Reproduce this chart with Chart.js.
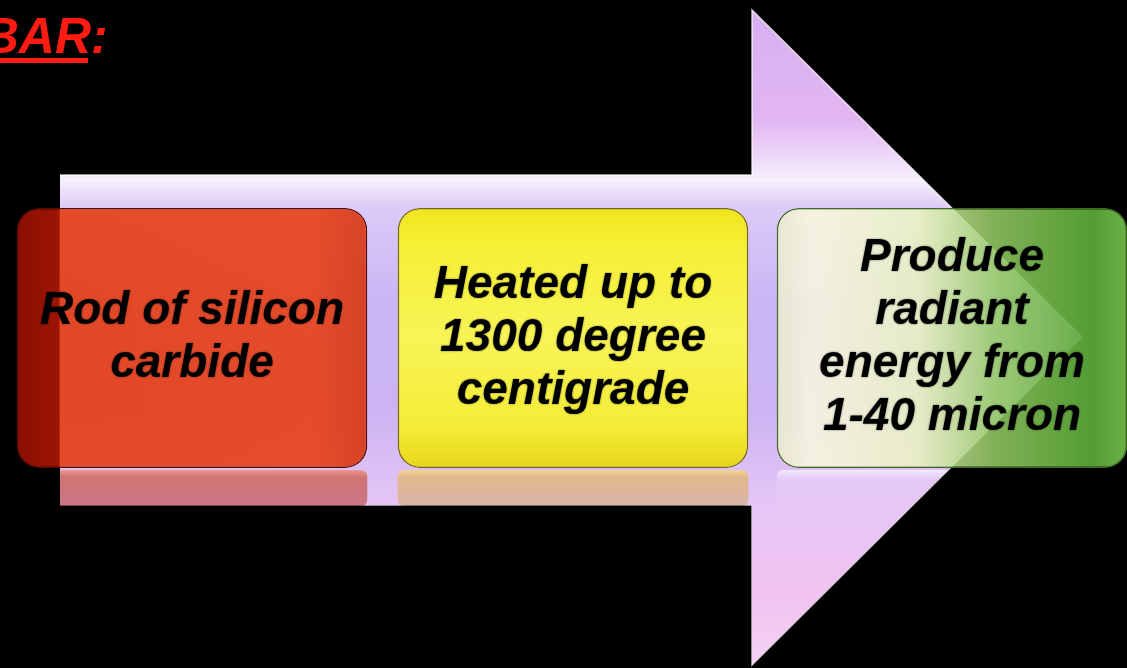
<!DOCTYPE html>
<html>
<head>
<meta charset="utf-8">
<title>GLOBAR</title>
<script src="https://cdn.jsdelivr.net/npm/chart.js@4.4.1/dist/chart.umd.min.js"></script>
<style>
  html, body { margin: 0; padding: 0; background: #000; overflow: hidden; }
  #wrap { width: 1127px; height: 668px; position: relative; }
</style>
</head>
<body>
<div id="wrap"><canvas id="chart"></canvas></div>
<script>
// ---- Content -------------------------------------------------------------
const titleText = 'GLOBAR:';
const steps = ['Rod of silicon carbide', 'Heated up to 1300 degree centigrade', 'Produce radiant energy from 1-40 micron'];
const stepLines = [
  ['Rod of silicon', 'carbide'],
  ['Heated up to', '1300 degree', 'centigrade'],
  ['Produce', 'radiant', 'energy from', '1-40 micron']
];
// step box centres along the arrow and their vertical band
const stepX = [192, 573, 952];
const stepBand = [208, 468];
// mirrored band under each box
const mirrorBand = [470, 506];
// arrow outline: upper edge and lower edge, left to right
const arrowTopX = [60, 752, 752, 1082];
const arrowTopY = [175, 175, 10, 337];
const arrowBottomX = [60, 752, 752, 1082];
const arrowBottomY = [505, 505, 665, 337];

const W = 1127, H = 668;
const HALF_BOX = 175;

// ---- Fills ---------------------------------------------------------------
function arrowFill(c) {
  const chart = c.chart, area = chart.chartArea;
  if (!area) return '#d0b8f4';
  const y = chart.scales.y;
  const g = chart.ctx.createLinearGradient(0, y.getPixelForValue(0), 0, y.getPixelForValue(H));
  g.addColorStop(0.00, '#d6aef0');
  g.addColorStop(0.18, '#e2b6f2');
  g.addColorStop(0.255, '#f2e6fb');
  g.addColorStop(0.27, '#f6f0fc');
  g.addColorStop(0.31, '#dccaf8');
  g.addColorStop(0.45, '#c9b6f4');
  g.addColorStop(0.62, '#cdb4f2');
  g.addColorStop(0.76, '#e6c6f6');
  g.addColorStop(0.88, '#f0c2f0');
  g.addColorStop(1.00, '#f6d2f4');
  return g;
}

function boxFill(c) {
  const chart = c.chart, area = chart.chartArea;
  const i = c.dataIndex;
  if (!area || i === undefined) return '#888';
  const ctx = chart.ctx, ys = chart.scales.y, xs = chart.scales.x;
  const top = ys.getPixelForValue(stepBand[0]), bot = ys.getPixelForValue(stepBand[1]);
  const cx = xs.getPixelForValue(stepX[i]);
  if (i === 0) {
    // darker where the box hangs past the tail of the arrow
    const left = cx - HALF_BOX, width = 2 * HALF_BOX;
    const tail = xs.getPixelForValue(arrowTopX[0]);
    const t = Math.max(0.01, Math.min(1, (tail - left) / width));
    const g = ctx.createLinearGradient(left, 0, left + width, 0);
    g.addColorStop(0, 'rgba(150,16,2,0.92)');
    g.addColorStop(t - 0.005, 'rgba(170,22,4,0.92)');
    g.addColorStop(t, 'rgba(230,54,6,0.86)');
    g.addColorStop(0.85, 'rgba(232,58,10,0.86)');
    g.addColorStop(1, 'rgba(214,50,10,0.88)');
    return g;
  }
  if (i === 1) {
    const g = ctx.createLinearGradient(0, top, 0, bot);
    g.addColorStop(0.0, '#f0e41c');
    g.addColorStop(0.15, '#f6f036');
    g.addColorStop(0.5, '#f8f456');
    g.addColorStop(0.85, '#f4ec36');
    g.addColorStop(1.0, '#e6d61a');
    return g;
  }
  const g = ctx.createLinearGradient(cx - HALF_BOX, 0, cx + HALF_BOX, 0);
  g.addColorStop(0.00, 'rgba(236,236,206,0.86)');
  g.addColorStop(0.10, 'rgba(250,250,222,0.84)');
  g.addColorStop(0.40, 'rgba(236,246,190,0.82)');
  g.addColorStop(0.62, 'rgba(150,206,100,0.86)');
  g.addColorStop(0.90, 'rgba(90,170,56,0.92)');
  g.addColorStop(1.00, 'rgba(116,192,76,0.92)');
  return g;
}

const boxBorders = ['#5a0c02', '#7a6a06', '#3e6a22'];

function mirrorFill(c) {
  const chart = c.chart, area = chart.chartArea;
  const i = c.dataIndex;
  if (!area) return 'rgba(255,255,255,0.3)';
  const ys = chart.scales.y;
  const top = ys.getPixelForValue(mirrorBand[0]), bot = ys.getPixelForValue(mirrorBand[1]);
  const g = chart.ctx.createLinearGradient(0, top, 0, bot);
  if (i === 0) {
    g.addColorStop(0.0, 'rgba(240,150,136,0.95)');
    g.addColorStop(0.2, 'rgba(206,110,104,0.92)');
    g.addColorStop(1.0, 'rgba(198,108,118,0.88)');
  } else if (i === 1) {
    g.addColorStop(0.0, 'rgba(246,214,150,0.95)');
    g.addColorStop(0.2, 'rgba(226,184,130,0.9)');
    g.addColorStop(1.0, 'rgba(214,176,150,0.8)');
  } else {
    g.addColorStop(0.0, 'rgba(255,250,255,0.75)');
    g.addColorStop(0.25, 'rgba(236,214,246,0.45)');
    g.addColorStop(1.0, 'rgba(230,200,240,0.25)');
  }
  return g;
}

// ---- Plugins -------------------------------------------------------------
// mirrored bands only show on top of the arrow body
const mirrorLayer = {
  id: 'mirrorLayer',
  beforeDatasetDraw(chart, args) {
    if (chart.data.datasets[args.index].label === 'mirror') {
      chart.ctx.save();
      chart.ctx.globalCompositeOperation = 'source-atop';
    }
  },
  afterDatasetDraw(chart, args) {
    if (chart.data.datasets[args.index].label === 'mirror') chart.ctx.restore();
  }
};

// step captions centred in each box
const stepCaptions = {
  id: 'stepCaptions',
  afterDatasetsDraw(chart) {
    const idx = chart.data.datasets.findIndex(d => d.label === 'steps');
    const meta = chart.getDatasetMeta(idx);
    const ctx = chart.ctx;
    const lh = 53;
    ctx.save();
    ctx.font = 'italic bold 46px "Liberation Sans", Arial, sans-serif';
    ctx.textAlign = 'center';
    ctx.textBaseline = 'middle';
    ctx.fillStyle = '#000';
    ctx.shadowColor = 'rgba(0,0,0,0.55)';
    ctx.shadowBlur = 2;
    meta.data.forEach((bar, i) => {
      const lines = stepLines[i];
      const cy = (bar.y + bar.base) / 2;
      const y0 = cy - (lines.length - 1) * lh / 2;
      lines.forEach((t, k) => ctx.fillText(t, bar.x, y0 + k * lh));
    });
    ctx.restore();
  }
};

// heading in the top-left corner
const heading = {
  id: 'heading',
  afterDraw(chart) {
    const ctx = chart.ctx;
    ctx.save();
    ctx.font = 'italic bold 50px "Liberation Sans", Arial, sans-serif';
    ctx.textBaseline = 'alphabetic';
    ctx.textAlign = 'left';
    const word = titleText.replace(':', '');
    const w = ctx.measureText(word).width;
    const x0 = 91 - w;
    ctx.fillStyle = '#ff1a12';
    ctx.fillText(titleText, x0, 53);
    ctx.fillRect(x0, 58, w - 3, 5);
    ctx.restore();
  }
};

function edgeTicks(scale) {
  scale.ticks = [{ value: scale.min }, { value: scale.max }];
}

new Chart(document.getElementById('chart'), {
  type: 'bar',
  data: {
    datasets: [
      {
        type: 'line',
        label: 'arrow',
        data: arrowTopX.map((x, i) => ({ x, y: arrowTopY[i] })),
        fill: '+1',
        backgroundColor: arrowFill,
        borderColor: 'rgba(255,255,255,0.75)',
        borderWidth: 1.5,
        pointRadius: 0,
        tension: 0,
        order: 3
      },
      {
        type: 'line',
        label: 'arrowLower',
        data: arrowBottomX.map((x, i) => ({ x, y: arrowBottomY[i] })),
        fill: false,
        borderColor: 'rgba(255,255,255,0.75)',
        borderWidth: 1.5,
        pointRadius: 0,
        tension: 0,
        order: 3
      },
      {
        label: 'mirror',
        data: stepX.map(x => ({ x, y: mirrorBand })),
        backgroundColor: mirrorFill,
        borderWidth: 0,
        borderRadius: 6,
        borderSkipped: false,
        grouped: false,
        barPercentage: 1,
        categoryPercentage: 0.925,
        order: 2
      },
      {
        label: 'steps',
        data: stepX.map(x => ({ x, y: stepBand })),
        backgroundColor: boxFill,
        borderColor: c => boxBorders[c.dataIndex] || '#000',
        borderWidth: 1.5,
        borderRadius: 22,
        borderSkipped: false,
        grouped: false,
        barPercentage: 1,
        categoryPercentage: 0.925,
        order: 1
      }
    ]
  },
  options: {
    responsive: true,
    maintainAspectRatio: false,
    animation: false,
    devicePixelRatio: 1,
    layout: { padding: 0 },
    scales: {
      x: { type: 'linear', min: 0, max: W, offset: false, display: false, afterBuildTicks: edgeTicks },
      y: { type: 'linear', min: 0, max: H, reverse: true, offset: false, display: false, afterBuildTicks: edgeTicks }
    },
    plugins: {
      legend: { display: false },
      tooltip: { enabled: false },
      title: { display: false }
    }
  },
  plugins: [mirrorLayer, stepCaptions, heading]
});
</script>
</body>
</html>
